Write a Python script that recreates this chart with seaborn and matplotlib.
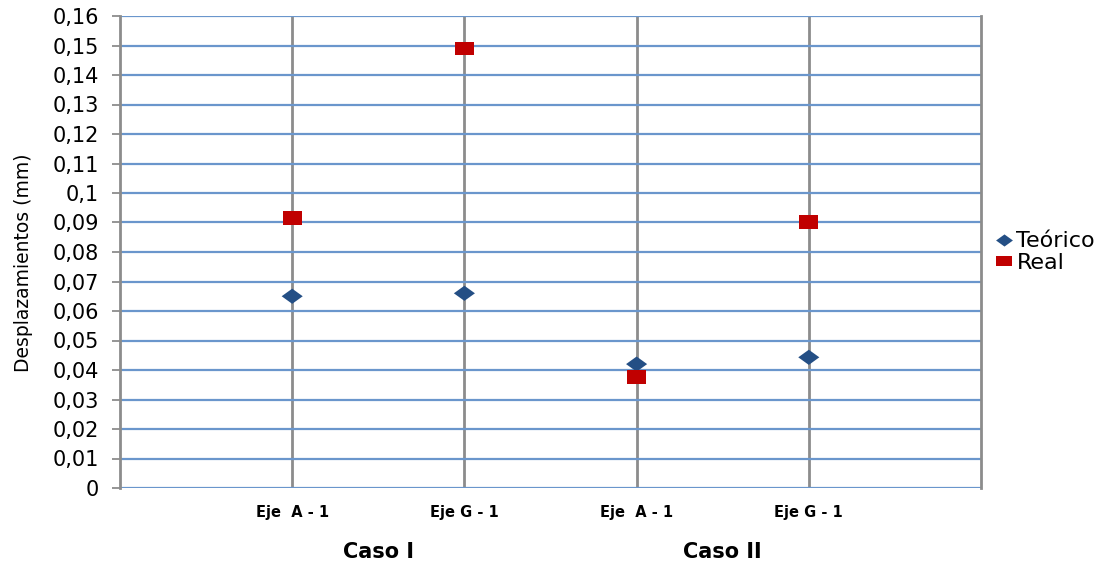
import numpy as np
import pandas as pd
import matplotlib
matplotlib.use("Agg")
import matplotlib.pyplot as plt
import seaborn as sns
from matplotlib.path import Path
from matplotlib.ticker import MultipleLocator, FuncFormatter


# -------------------------
# Data
# -------------------------
point_keys = ["I-A", "I-G", "II-A", "II-G"]
tick_labels = ["Eje  A - 1", "Eje G - 1", "Eje  A - 1", "Eje G - 1"]
case_labels = ["Caso I", "Caso II"]
teorico = [0.0650, 0.0660, 0.0420, 0.0443]
real = [0.0915, 0.1490, 0.0376, 0.0902]

df = pd.DataFrame({
    "punto": point_keys * 2,
    "valor": teorico + real,
    "serie": ["Teórico"] * len(teorico) + ["Real"] * len(real),
})


# -------------------------
# Style
# -------------------------
sns.set_style("white")
plt.rcParams["font.family"] = ["DejaVu Sans"]
plt.rcParams["text.color"] = "black"
plt.rcParams["axes.labelcolor"] = "black"
plt.rcParams["xtick.labelcolor"] = "black"
plt.rcParams["ytick.labelcolor"] = "black"

diamond = Path([(-1, 0), (0, 0.72), (1, 0), (0, -0.72), (-1, 0)],
               [Path.MOVETO, Path.LINETO, Path.LINETO, Path.LINETO, Path.CLOSEPOLY])
square = Path([(-1, -0.72), (1, -0.72), (1, 0.72), (-1, 0.72), (-1, -0.72)],
              [Path.MOVETO, Path.LINETO, Path.LINETO, Path.LINETO, Path.CLOSEPOLY])

fig = plt.figure(figsize=(11.14, 5.65), dpi=100)
ax = fig.add_axes([120 / 1114, 1 - 488 / 565, 861 / 1114, 472 / 565])

# grid
ax.set_axisbelow(True)
ax.yaxis.set_major_locator(MultipleLocator(0.01))
ax.grid(axis="y", color="#6A96CC", lw=1.6)
ax.grid(axis="x", color="#8C8C8C", lw=2)

sns.scatterplot(
    data=df, x="punto", y="valor", hue="serie", style="serie", size="serie",
    hue_order=["Teórico", "Real"], style_order=["Teórico", "Real"],
    size_order=["Teórico", "Real"],
    palette={"Teórico": "#244F85", "Real": "#C00000"},
    markers={"Teórico": diamond, "Real": square},
    sizes={"Teórico": 230, "Real": 185},
    linewidth=0, ax=ax, zorder=3,
)

ax.set_xlim(-1, len(point_keys))
ax.set_ylim(0, 0.16)

# axes / ticks
for side in ["top", "bottom"]:
    ax.spines[side].set_visible(False)
for side in ["left", "right"]:
    ax.spines[side].set_color("#8C8C8C")
    ax.spines[side].set_linewidth(2)

ax.yaxis.set_major_formatter(
    FuncFormatter(lambda v, _: ("%g" % round(v, 2)).replace(".", ",")))
ax.tick_params(axis="y", left=True, length=6, width=1.3, color="#8C8C8C",
               labelsize=15, pad=9)
ax.tick_params(axis="x", bottom=False, pad=9)
ax.set_xticks(range(len(point_keys)))
ax.set_xticklabels(tick_labels, fontsize=10.5, fontweight="bold")

ax.set_xlabel("")
ax.set_ylabel("Desplazamientos (mm)", fontsize=13.5)
ax.yaxis.set_label_coords(-0.101, 0.477)

# group labels
for i, lab in enumerate(case_labels):
    ax.text(2 * i + 0.5, -0.136, lab, transform=ax.get_xaxis_transform(),
            ha="center", va="center", fontsize=15, fontweight="bold")

# legend
leg = ax.legend(loc="center left", bbox_to_anchor=(1.005, 0.5), frameon=False,
                fontsize=16, handletextpad=0.1, handlelength=0.9,
                labelspacing=0.05, borderaxespad=0, markerscale=0.8)

fig.savefig("out.png", dpi=100)
